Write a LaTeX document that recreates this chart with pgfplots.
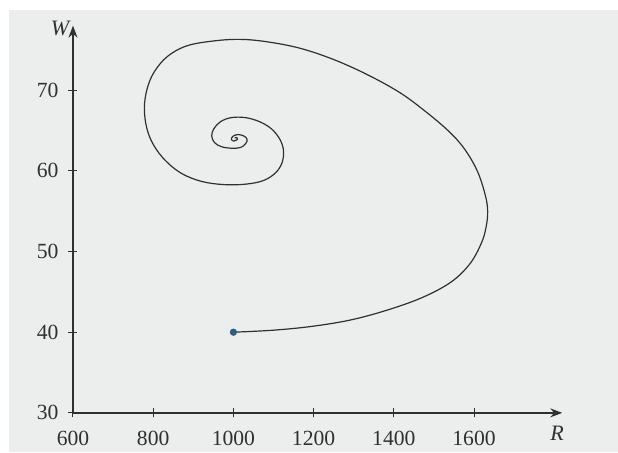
\documentclass[border=0pt]{standalone}
\usepackage{fontspec}
\setmainfont{Liberation Serif}
\usepackage{pgfplots}
\pgfplotsset{compat=1.18}
\usetikzlibrary{backgrounds,arrows.meta}
\definecolor{bg}{HTML}{ECEDED}
\definecolor{ln}{HTML}{303030}
\definecolor{dotc}{HTML}{2F5F7F}
\begin{document}
\begin{tikzpicture}
\begin{axis}[
  scale only axis, width=244.5pt, height=193.5pt,
  xmin=600, xmax=1820, ymin=30, ymax=78,
  axis lines=left,
  axis line style={draw=ln, line width=0.7pt, -{Stealth[length=6pt,width=4.5pt]}},
  xtick={600,800,...,1600}, ytick={30,40,...,70},
  tick align=center, major tick length=4.5pt,
  tick style={draw=ln, line width=0.5pt},
  tick label style={font=\fontsize{10.8}{12}\selectfont, text=ln},
  /pgf/number format/assume math mode=true,
  /pgf/number format/1000 sep={},
  xticklabel style={yshift=-3.5pt},
  yticklabel style={xshift=-1.5pt},
  clip=false]
\coordinate (A) at (axis cs:418,25.16);
\coordinate (B) at (axis cs:1959,81.18);
\coordinate (G) at (axis cs:440,79.94);
\addplot[ln, line width=0.6pt, smooth, tension=0.6] coordinates {
(1000,40.0) (1100,40.25) (1200,40.75) (1300,41.6) (1400,43.0) (1480,44.5)
(1545,46.3) (1590,48.5) (1618,51.0) (1630,53.0) (1634,55.0) (1628,57.0)
(1608,60.0) (1575,62.8) (1535,65.0) (1478,67.4) (1415,69.7) (1335,71.9)
(1250,73.8) (1166,75.2) (1084,76.0) (1016,76.3) (950,76.1) (884,75.5)
(836,74.2) (803,72.3) (785,70.2) (778,67.8) (784,65.3) (801,63.2)
(830,61.3) (870,59.7) (920,58.7) (975,58.3) (1030,58.35) (1075,58.8)
(1106,59.8) (1122,61.1) (1125,62.5) (1116,63.9) (1095,65.2) (1065,66.1)
(1030,66.6) (995,66.6) (968,66.1) (951,65.2) (946,64.3) (953,63.5)
(970,63.0) (995,62.8) (1018,62.9) (1031,63.4) (1034,63.9) (1027,64.3)
(1012,64.5) (999,64.3) (995,63.9) (1001,63.7) (1010,63.9) (1009,64.1)
(1003,64.1)
};
\addplot[only marks, mark=*, mark size=1.6pt, color=dotc] coordinates {(1000,40)};
\node[font=\itshape\fontsize{11}{12}\selectfont, text=ln] at (axis cs:568,77.7) {W};
\node[font=\itshape\fontsize{11}{12}\selectfont, text=ln] at (axis cs:1807,27.5) {R};
\end{axis}
\begin{pgfonlayer}{background}
\fill[white] (A) rectangle (B);
\fill[bg] (A-|G) rectangle (G-|B);
\end{pgfonlayer}
\end{tikzpicture}
\end{document}
